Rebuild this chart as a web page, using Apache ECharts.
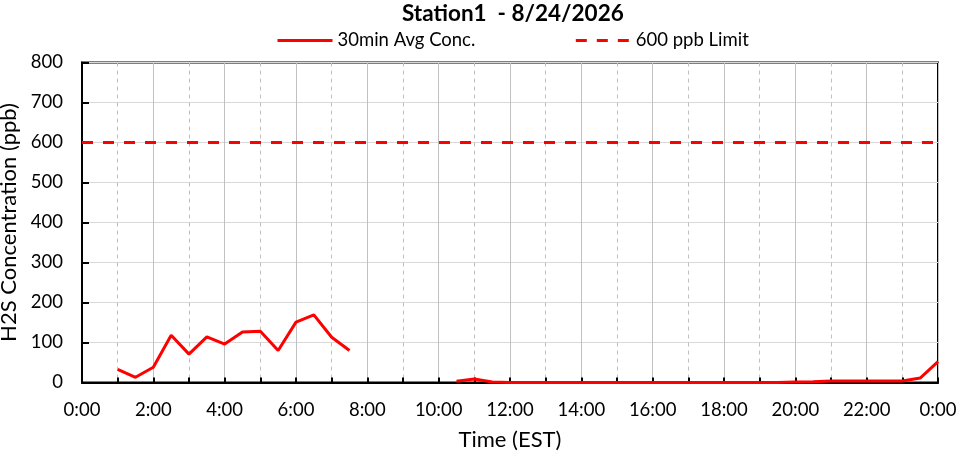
<!DOCTYPE html>
<html><head><meta charset="utf-8">
<script src="https://cdn.jsdelivr.net/npm/echarts@6/dist/echarts.min.js"></script>
<style>html,body{margin:0;padding:0;background:#fff}#c{width:957px;height:452px}</style>
</head><body><div id="c"></div>
<script>
const titleText = 'Station1  - 8/24/2026';
const seriesNames = ['30min Avg Conc.', '600 ppb Limit'];
const hours = [1,1.5,2,2.5,3,3.5,4,4.5,5,5.5,6,6.5,7,7.5,8,8.5,9,9.5,10,10.5,11,11.5,12,12.5,13,13.5,14,14.5,15,15.5,16,16.5,17,17.5,18,18.5,19,19.5,20,20.5,21,21.5,22,22.5,23,23.5,24];
const conc = [33,13,38,118,71,114,96,126,128,80,151,169,113,80,null,null,null,null,null,3,9,1,0,0,0,0,0,0,0,0,0,0,0,0,0,0,0,0,1,2,4,4,4,4,4,11,52];
const limitValue = 600;
const xRange = [0, 24];
const yTicks = [0,100,200,300,400,500,600,700,800];

const font = 'Lato, "Open Sans", sans-serif';
const chart = echarts.init(document.getElementById('c'));
chart.setOption({
  animation: false,
  textStyle: {fontFamily: font, color: '#000'},
  title: {text: titleText, left: 397, top: -3, textStyle: {fontFamily: font, fontSize: 22.5, fontWeight: 'bold', color: '#000'}},
  legend: {
    top: 26, left: 271, itemWidth: 55, itemHeight: 12, itemGap: 99,
    itemStyle: {opacity: 0},
    lineStyle: {width: 3},
    textStyle: {fontFamily: font, fontSize: 18.5, color: '#000'},
    data: seriesNames
  },
  grid: {left: 82, right: 19, top: 62.5, bottom: 69.5, outerBoundsMode: 'none', containLabel: false,
    show: true, borderColor: '#000', borderWidth: 2, backgroundColor: 'transparent'},
  xAxis: {
    type: 'value', min: xRange[0], max: xRange[1], interval: 2,
    name: 'Time (EST)', nameLocation: 'middle', nameGap: 46,
    nameTextStyle: {fontFamily: font, fontSize: 22, color: '#000'},
    axisLine: {show: true, lineStyle: {color: '#000', width: 2}},
    axisTick: {show: true, inside: true, length: 5, lineStyle: {color: '#000', width: 2}},
    minorTick: {show: true, splitNumber: 2, length: 5, lineStyle: {color: '#000', width: 2}},
    axisLabel: {fontFamily: font, fontSize: 18.5, color: '#000', margin: 18,
      formatter: v => (Math.round(v) % 24) + ':00'},
    splitLine: {show: true, lineStyle: {color: '#C0C0C0', width: 1}},
    minorSplitLine: {show: true, lineStyle: {color: '#C0C0C0', width: 1, type: [4, 4]}}
  },
  yAxis: {
    type: 'value', min: yTicks[0], max: yTicks[yTicks.length-1], interval: 100,
    name: 'H2S Concentration (ppb)', nameLocation: 'middle', nameGap: 61,
    nameTextStyle: {fontFamily: font, fontSize: 22, color: '#000'},
    axisLine: {show: true, lineStyle: {color: '#000', width: 2}},
    axisTick: {show: true, inside: true, length: 7, lineStyle: {color: '#000', width: 2}},
    axisLabel: {fontFamily: font, fontSize: 18.5, color: '#000', margin: 19},
    splitLine: {show: true, lineStyle: {color: '#D9D9D9', width: 1}}
  },
  series: [
    {name: seriesNames[0], type: 'line', data: hours.map((h, i) => [h, conc[i]]),
     symbol: 'none', connectNulls: false, lineStyle: {color: '#FF0000', width: 3}, itemStyle: {color: '#FF0000'}},
    {name: seriesNames[1], type: 'line', data: xRange.map(h => [h, limitValue]),
     symbol: 'none', lineStyle: {color: '#FF0000', width: 3, type: [11, 10]}, itemStyle: {color: '#FF0000'}}
  ]
});
</script></body></html>
